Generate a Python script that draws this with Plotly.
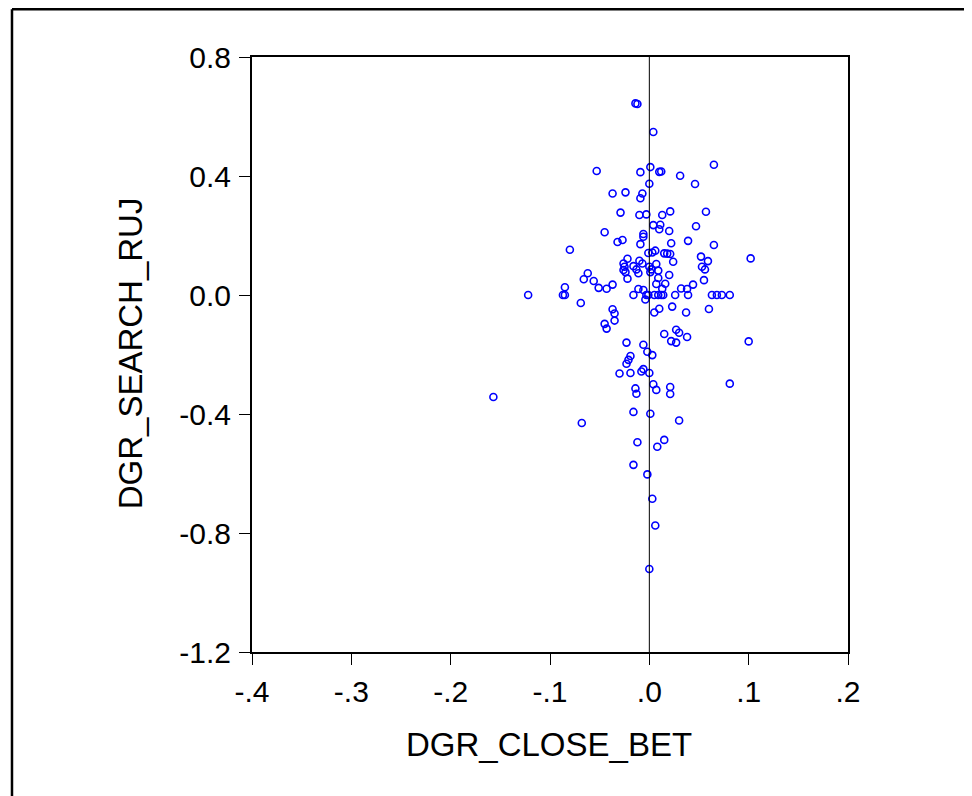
import plotly.graph_objects as go

dgr_close_bet = [
    -0.014, -0.012, 0.004, -0.053, -0.009, 0.001, 0.010, 0.012, 0.031, 0.065,
    0.046, 0.000, -0.037, -0.024, -0.007, -0.009, -0.029, -0.010, -0.003, 0.013,
    0.021, 0.057, -0.045, 0.004, 0.011, 0.010, 0.020, 0.047, -0.006, -0.006,
    -0.032, -0.027, -0.009, 0.022, 0.039, 0.065, 0.102, -0.022, -0.001, 0.003,
    0.006, 0.015, 0.018, 0.021, 0.024, 0.052, 0.059, 0.053, 0.056, 0.055,
    -0.026, -0.025, -0.026, -0.024, -0.016, -0.013, -0.011, -0.010, -0.007, 0.000,
    0.002, 0.001, 0.007, 0.009, 0.020, 0.009, -0.022, 0.016, 0.007, 0.013,
    0.044, 0.032, 0.038, -0.037, -0.043, -0.051, -0.011, -0.006, -0.016, -0.003,
    -0.001, -0.004, 0.005, 0.009, 0.012, 0.014, 0.026, 0.039, 0.063, 0.068,
    0.073, 0.081, -0.037, -0.035, -0.035, -0.045, -0.043, 0.005, 0.010, 0.023,
    0.037, 0.060, 0.015, 0.027, 0.030, 0.038, 0.022, 0.027, 0.100, -0.023,
    -0.006, -0.002, 0.003, -0.019, -0.021, -0.023, -0.006, -0.008, -0.030, -0.019,
    0.000, 0.081, 0.004, 0.007, 0.021, 0.021, -0.014, -0.013, -0.016, 0.001,
    0.030, -0.012, 0.015, 0.008, -0.016, -0.002, 0.003, 0.006, 0.000, -0.080,
    -0.062, -0.066, -0.056, -0.085, -0.087, -0.085, -0.122, -0.069, -0.157, -0.068,
]

dgr_search_ruj = [
    0.644, 0.642, 0.548, 0.417, 0.413, 0.430, 0.414, 0.415, 0.401, 0.438,
    0.373, 0.374, 0.341, 0.345, 0.341, 0.325, 0.277, 0.269, 0.271, 0.269,
    0.281, 0.280, 0.211, 0.235, 0.236, 0.221, 0.215, 0.231, 0.205, 0.196,
    0.178, 0.185, 0.171, 0.174, 0.182, 0.168, 0.123, 0.122, 0.141, 0.143,
    0.149, 0.140, 0.139, 0.138, 0.112, 0.129, 0.114, 0.095, 0.086, 0.050,
    0.106, 0.095, 0.084, 0.077, 0.097, 0.086, 0.073, 0.115, 0.106, 0.095,
    0.086, 0.077, 0.104, 0.082, 0.067, 0.057, 0.055, 0.038, 0.037, 0.021,
    0.035, 0.022, 0.020, 0.035, 0.021, 0.024, 0.020, 0.017, 0.000, 0.000,
    0.000, -0.015, 0.000, 0.000, 0.000, 0.000, 0.000, 0.000, 0.000, 0.000,
    0.000, 0.000, -0.048, -0.062, -0.086, -0.097, -0.113, -0.059, -0.046, -0.039,
    -0.059, -0.047, -0.131, -0.117, -0.127, -0.141, -0.155, -0.160, -0.156, -0.160,
    -0.167, -0.191, -0.202, -0.205, -0.218, -0.231, -0.249, -0.257, -0.264, -0.262,
    -0.262, -0.298, -0.300, -0.319, -0.309, -0.333, -0.314, -0.332, -0.393, -0.399,
    -0.422, -0.495, -0.487, -0.510, -0.571, -0.603, -0.685, -0.775, -0.921, 0.152,
    0.073, 0.053, 0.047, 0.026, 0.000, 0.000, 0.000, -0.027, -0.343, -0.430,
]

x_tickvals = [-0.4, -0.3, -0.2, -0.1, 0.0, 0.1, 0.2]
x_ticktext = ["-.4", "-.3", "-.2", "-.1", ".0", ".1", ".2"]
y_tickvals = [-1.2, -0.8, -0.4, 0.0, 0.4, 0.8]
y_ticktext = ["-1.2", "-0.8", "-0.4", "0.0", "0.4", "0.8"]

FONT = "Liberation Sans, Arial, sans-serif"

fig = go.Figure()
fig.add_trace(go.Scatter(
    x=dgr_close_bet, y=dgr_search_ruj, mode="markers",
    marker=dict(symbol="circle-open", size=7, color="#0000FF",
                line=dict(width=1.6, color="#0000FF")),
    showlegend=False, hoverinfo="x+y",
))

axis_common = dict(
    showgrid=False, zeroline=False, showline=True, linecolor="black",
    linewidth=2, mirror=True, ticks="outside", ticklen=11, tickwidth=1,
    tickcolor="black", tickfont=dict(family=FONT, size=30, color="black"),
)

fig.update_layout(
    width=972, height=796,
    margin=dict(l=244, r=132, t=49, b=152),
    paper_bgcolor="white", plot_bgcolor="white",
    xaxis=dict(range=[-0.4, 0.2], tickvals=x_tickvals, ticktext=x_ticktext,
               ticklabelstandoff=1, **axis_common),
    yaxis=dict(range=[-1.2, 0.8], tickvals=y_tickvals, ticktext=y_ticktext,
               ticklabelstandoff=2, **axis_common),
    shapes=[
        dict(type="line", xref="x", yref="paper", x0=0, x1=0, y0=0, y1=1,
             line=dict(color="black", width=1)),
        dict(type="line", xref="paper", yref="paper",
             x0=-0.4027, x1=-0.4027, y0=-1.0, y1=1.0803,
             line=dict(color="black", width=2.5)),
        dict(type="line", xref="paper", yref="paper",
             x0=-0.4027, x1=2.0, y0=1.0803, y1=1.0803,
             line=dict(color="black", width=2.5)),
    ],
    annotations=[
        dict(text="DGR_CLOSE_BET", xref="paper", yref="paper",
             x=0.498, y=-0.156, xanchor="center", yanchor="middle",
             showarrow=False, font=dict(family=FONT, size=33, color="black")),
        dict(text="DGR_SEARCH_RUJ", xref="paper", yref="paper",
             x=-0.2047, y=0.502, xanchor="center", yanchor="middle",
             textangle=-90, showarrow=False,
             font=dict(family=FONT, size=33, color="black")),
    ],
)

fig.write_html("out.html")
